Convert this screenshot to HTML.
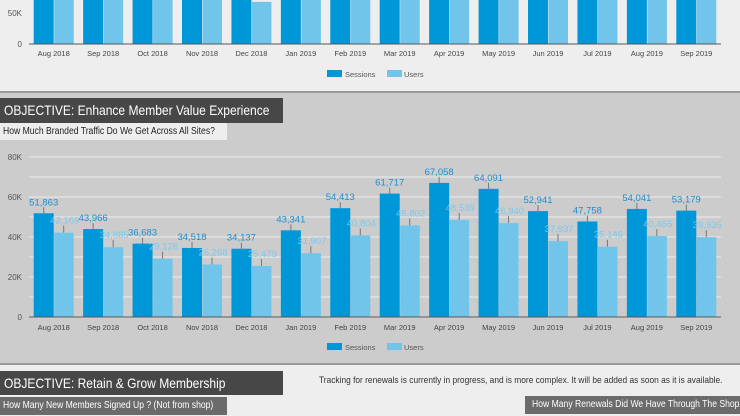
<!DOCTYPE html>
<html><head><meta charset="utf-8"><style>
body{margin:0;width:740px;height:416px;overflow:hidden;background:#eeeeee;font-family:"Liberation Sans",sans-serif;position:relative}
.abs{position:absolute}
.sq{display:inline-block;white-space:nowrap;transform-origin:left center}
</style></head><body>
<div class="abs" style="left:0;top:0;width:740px;height:92px;background:#eeeeee"></div>
<div class="abs" style="left:0;top:91px;width:740px;height:2px;background:#999"></div>
<div class="abs" style="left:0;top:93px;width:740px;height:271px;background:#cccccc"></div>
<div class="abs" style="left:0;top:363px;width:740px;height:2px;background:#999"></div>
<div class="abs" style="left:0;top:98px;width:283px;height:25px;background:#474747;color:#fff;font-size:14px;line-height:25px;padding-left:4px;box-sizing:border-box;overflow:hidden"><span class="sq" style="transform:scaleX(0.86)">OBJECTIVE: Enhance Member Value Experience</span></div>
<div class="abs" style="left:0;top:123px;width:227px;height:17px;background:#eeeeee;color:#222;font-size:10px;line-height:17px;padding-left:3px;box-sizing:border-box;overflow:hidden"><span class="sq" style="transform:scaleX(0.86)">How Much Branded Traffic Do We Get Across All Sites?</span></div>
<div class="abs" style="left:0;top:371px;width:283px;height:24px;background:#474747;color:#fff;font-size:14px;line-height:24px;padding-left:4px;box-sizing:border-box;overflow:hidden"><span class="sq" style="transform:scaleX(0.86)">OBJECTIVE: Retain &amp; Grow Membership</span></div>
<div class="abs" style="left:319px;top:375px;color:#333;font-size:9.5px;line-height:12px"><span class="sq" style="transform:scaleX(0.88)">Tracking for renewals is currently in progress, and is more complex. It will be added as soon as it is available.</span></div>
<div class="abs" style="left:0;top:397px;width:227px;height:18px;background:#6b6b6b;color:#fff;font-size:10px;line-height:18px;padding-left:3px;box-sizing:border-box;overflow:hidden"><span class="sq" style="transform:scaleX(0.86)">How Many New Members Signed Up ? (Not from shop)</span></div>
<div class="abs" style="left:525px;top:396px;width:215px;height:18px;background:#6b6b6b;color:#fff;font-size:10px;line-height:18px;padding-left:7px;box-sizing:border-box;overflow:hidden"><span class="sq" style="transform:scaleX(0.86)">How Many Renewals Did We Have Through The Shop?</span></div>
<svg id="svg" class="abs" style="left:0;top:0" width="740" height="416"></svg>
<script>
const cats=["Aug 2018","Sep 2018","Oct 2018","Nov 2018","Dec 2018","Jan 2019","Feb 2019","Mar 2019","Apr 2019","May 2019","Jun 2019","Jul 2019","Aug 2019","Sep 2019"];
const sessions=[51863,43966,36683,34518,34137,43341,54413,61717,67058,64091,52941,47758,54041,53179];
const users=[42169,34885,29128,26268,25479,31907,40804,45802,48539,46940,37937,35146,40465,39935];
const topSessions=[120000,120000,120000,120000,120000,120000,120000,120000,120000,120000,120000,120000,120000,120000];
const topUsers=[120000,120000,120000,120000,68000,120000,120000,120000,120000,120000,120000,120000,120000,120000];
const yTicks=[0,20000,40000,60000,80000];
const yTickLabels=["0","20K","40K","60K","80K"];
const topTicks=[0,50000];
const topTickLabels=["0","50K"];
const svg=document.getElementById('svg');const NS='http://www.w3.org/2000/svg';
function mk(t,a,txt){const e=document.createElementNS(NS,t);for(const k in a)e.setAttribute(k,a[k]);if(txt!==undefined)e.textContent=txt;svg.appendChild(e);return e;}
const X0=29,X1=721,N=cats.length,band=(X1-X0)/N;
function xb(i){return X0+i*band+(band-40)/2;}
function fmt(v){return v.toLocaleString('en-US');}
const B0=317,BH=160,BMAX=80000;function yb(v){return B0-v/BMAX*BH;}
for(let v=0;v<=80000;v+=10000){const l=mk('line',{x1:X0,x2:X1,y1:yb(v),y2:yb(v),stroke:'#e6e6e6','stroke-width':1.3});

}
yTicks.forEach((v,i)=>{const t=mk('text',{x:22,y:yb(v)+3,'text-anchor':'end','font-size':8,fill:'#555'},yTickLabels[i]);

});
cats.forEach((c,i)=>{const x=xb(i);
const s=mk('rect',{x:x,y:yb(sessions[i]),width:20,height:B0-yb(sessions[i]),fill:'#0097d8'});


const u=mk('rect',{x:x+20.5,y:yb(users[i]),width:19.5,height:B0-yb(users[i]),fill:'#72c5ea'});


mk('line',{x1:x+10,x2:x+10,y1:yb(sessions[i])-6,y2:yb(sessions[i]),stroke:'#777','stroke-width':1});
mk('line',{x1:x+30,x2:x+30,y1:yb(users[i])-7,y2:yb(users[i]),stroke:'#777','stroke-width':1});
const sl=mk('text',{x:x+10,y:yb(sessions[i])-8,'text-anchor':'middle','font-size':9.5,fill:'#1a8fd0'},fmt(sessions[i]));


const ul=mk('text',{x:x+31,y:yb(users[i])-9,'text-anchor':'middle','font-size':9.5,fill:'#7cc8ee'},fmt(users[i]));


const xl=mk('text',{x:x+20,y:330,'text-anchor':'middle','font-size':7.5,fill:'#444'},c);

});
mk('line',{x1:X0,x2:X1,y1:B0,y2:B0,stroke:'#555','stroke-width':1});
const T0=44,TH=31,TMAX=50000;function yt(v){return Math.max(0,T0-v/TMAX*TH);}
topTicks.forEach((v,i)=>{const t=mk('text',{x:22,y:T0-v/TMAX*TH+3,'text-anchor':'end','font-size':8,fill:'#555'},topTickLabels[i]);

});
cats.forEach((c,i)=>{const x=xb(i);
const s=mk('rect',{x:x,y:yt(topSessions[i]),width:20,height:T0-yt(topSessions[i]),fill:'#0097d8'});


const u=mk('rect',{x:x+20.5,y:yt(topUsers[i]),width:19.5,height:T0-yt(topUsers[i]),fill:'#72c5ea'});


const xl=mk('text',{x:x+20,y:56,'text-anchor':'middle','font-size':7.5,fill:'#444'},c);

});
mk('line',{x1:X0,x2:X1,y1:T0,y2:T0,stroke:'#555','stroke-width':1});
function legend(y,nm){const a=mk('rect',{x:327,y:y-4,width:15,height:7,fill:'#0097d8'});


const t1=mk('text',{x:345,y:y+3,'font-size':7.5,fill:'#555'},'Sessions');


const b=mk('rect',{x:387,y:y-4,width:15,height:7,fill:'#72c5ea'});


const t2=mk('text',{x:404,y:y+3,'font-size':7.5,fill:'#555'},'Users');

}
legend(74,'top-legend');legend(347,'legend');
</script>
</body></html>
